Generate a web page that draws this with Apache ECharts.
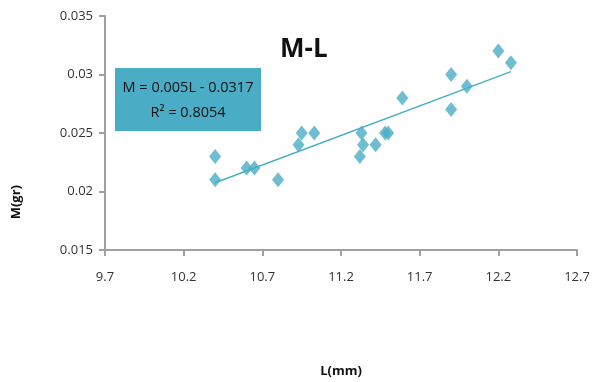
<!DOCTYPE html>
<html>
<head>
<meta charset="utf-8">
<script src="https://cdn.jsdelivr.net/npm/echarts@6/dist/echarts.min.js"></script>
<style>
  html, body { margin: 0; padding: 0; background: #fff; }
  #chart { width: 593px; height: 382px; }
</style>
</head>
<body>
<div id="chart"></div>
<script>
// L (mm) and M (gr)
var lengths = [10.4, 10.4, 10.6, 10.65, 10.8, 10.93, 10.95, 11.03, 11.33, 11.34,
               11.32, 11.42, 11.48, 11.5, 11.59, 11.9, 11.9, 12.0, 12.2, 12.28];
var masses  = [0.023, 0.021, 0.022, 0.022, 0.021, 0.024, 0.025, 0.025, 0.025, 0.024,
               0.023, 0.024, 0.025, 0.025, 0.028, 0.030, 0.027, 0.029, 0.032, 0.031];
var xTicks = [9.7, 10.2, 10.7, 11.2, 11.7, 12.2, 12.7];
var yTicks = [0.015, 0.02, 0.025, 0.03, 0.035];
var equationText = 'M = 0.005L - 0.0317';
var r2Text = 'R\u00B2 = 0.8054';

var teal = '#4bacc6';

var points = lengths.map(function (l, i) { return [l, masses[i]]; });

// least squares trend line over the data range
var n = points.length, sx = 0, sy = 0, sxx = 0, sxy = 0;
points.forEach(function (p) { sx += p[0]; sy += p[1]; sxx += p[0] * p[0]; sxy += p[0] * p[1]; });
var slope = (n * sxy - sx * sy) / (n * sxx - sx * sx);
var icpt = (sy - slope * sx) / n;
var xMin = Math.min.apply(null, lengths), xMax = Math.max.apply(null, lengths);
var trend = [[xMin, slope * xMin + icpt], [xMax, slope * xMax + icpt]];

var chart = echarts.init(document.getElementById('chart'));

var labelFont = { color: '#333', fontSize: 13, fontFamily: 'Open Sans' };

chart.setOption({
  animation: false,
  grid: { left: 105, right: 16, top: 16, bottom: 132, outerBoundsMode: 'none' },
  title: {
    text: 'M-L', left: 275, top: 32,
    textStyle: { fontSize: 26, fontWeight: 'bold', color: '#111', fontFamily: 'Open Sans' }
  },
  xAxis: {
    type: 'value', min: xTicks[0], max: xTicks[xTicks.length - 1], interval: 0.5,
    splitLine: { show: false },
    axisLine: { lineStyle: { color: '#a0a0a0', width: 2 } },
    axisTick: { length: 6, lineStyle: { color: '#a0a0a0', width: 2 } },
    axisLabel: Object.assign({ margin: 21, formatter: function (v) { return v.toFixed(1); } }, labelFont),
    name: 'L(mm)', nameLocation: 'middle', nameGap: 115,
    nameTextStyle: { fontSize: 13, fontWeight: 'bold', color: '#111', fontFamily: 'Open Sans' }
  },
  yAxis: {
    type: 'value', min: yTicks[0], max: yTicks[yTicks.length - 1], interval: 0.005,
    splitLine: { show: false },
    axisLine: { show: true, lineStyle: { color: '#a0a0a0', width: 2 } },
    axisTick: { show: true, length: 6, lineStyle: { color: '#a0a0a0', width: 2 } },
    axisLabel: Object.assign({ margin: 12, formatter: function (v) { return String(parseFloat(v.toFixed(3))); } }, labelFont)
  },
  graphic: [
    {
      type: 'text', left: 10, top: 185, rotation: Math.PI / 2,
      style: { text: 'M(gr)', fontSize: 13, fontWeight: 'bold', fill: '#111', fontFamily: 'Open Sans' }
    },
    {
      type: 'group', left: 115, top: 68,
      children: [
        { type: 'rect', shape: { x: 0, y: 0, width: 146, height: 63 }, style: { fill: teal } },
        { type: 'text', style: { text: equationText + '\n' + r2Text, x: 73, y: 32, align: 'center', verticalAlign: 'middle',
          fontSize: 14.5, lineHeight: 25, fill: '#111', fontFamily: 'Open Sans' } }
      ]
    }
  ],
  series: [
    {
      type: 'line', data: trend, symbol: 'none',
      lineStyle: { color: teal, width: 1.5 }, z: 1
    },
    {
      type: 'scatter', data: points, symbol: 'diamond', symbolSize: [12, 15],
      itemStyle: { color: teal }, z: 2
    }
  ]
});
</script>
</body>
</html>
